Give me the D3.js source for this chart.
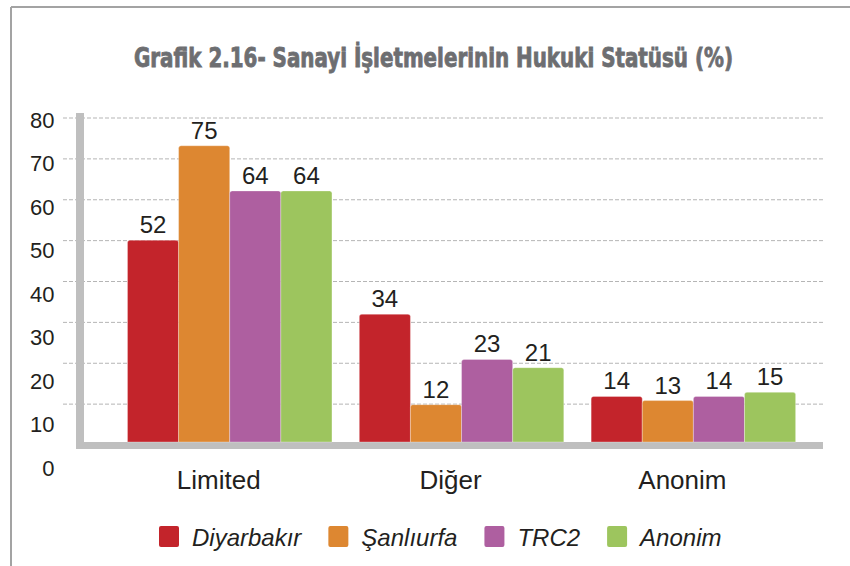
<!DOCTYPE html>
<html>
<head>
<meta charset="utf-8">
<script src="https://cdn.jsdelivr.net/npm/d3@7/dist/d3.min.js"></script>
<style>
  html, body { margin: 0; padding: 0; background: #fff; }
  svg { display: block; }
</style>
</head>
<body>
<svg id="chart" width="850" height="566"></svg>
<script>
const title = "Grafik 2.16- Sanayi İşletmelerinin Hukuki Statüsü (%)";
const categories = ["Limited", "Diğer", "Anonim"];
const seriesNames = ["Diyarbakır", "Şanlıurfa", "TRC2", "Anonim"];
const diyarbakir = [52, 34, 14];
const sanliurfa = [75, 12, 13];
const trc2 = [64, 23, 14];
const anonim = [64, 21, 15];
const yTicks = [0, 10, 20, 30, 40, 50, 60, 70, 80];
const colors = ["#c3242b", "#dd8731", "#ae5fa0", "#9dc55e"];

const seriesValues = [diyarbakir, sanliurfa, trc2, anonim];

const svg = d3.select("#chart");
const font = "'Liberation Sans', Arial, Helvetica, sans-serif";
const textColor = "#231f20";

// frame
svg.append("line").attr("x1", 11).attr("x2", 850).attr("y1", 7).attr("y2", 7)
  .attr("stroke", "#a3a3a3").attr("stroke-width", 2);
svg.append("line").attr("x1", 11).attr("x2", 11).attr("y1", 7).attr("y2", 566)
  .attr("stroke", "#a3a3a3").attr("stroke-width", 2);

// title
svg.append("text")
  .attr("x", 433.5).attr("y", 67)
  .attr("text-anchor", "middle")
  .attr("font-family", "'DejaVu Sans Condensed', 'Liberation Sans Narrow', sans-serif")
  .attr("font-weight", "bold")
  .attr("font-size", 26)
  .attr("fill", "#6d6e71")
  .attr("stroke", "#6d6e71").attr("stroke-width", 0.8)
  .attr("textLength", 599)
  .attr("lengthAdjust", "spacingAndGlyphs")
  .text(title);

// scales
const gridY = d3.scaleLinear().domain([0, 80]).range([445, 118]);
const labelY = d3.scaleLinear().domain([0, 80]).range([468, 120]);
const barY = d3.scaleLinear().domain([0, 80]).range([454, 125.2]);
const floorTop = 442;

const x0 = d3.scaleBand().domain(categories).range([113.8, 809.3])
  .paddingInner(0.118).paddingOuter(0.059);
const x1 = d3.scaleBand().domain(seriesNames).range([0, x0.bandwidth()]).padding(0);

// gridlines
svg.append("g").selectAll("line")
  .data(yTicks.filter(d => d > 0))
  .join("line")
  .attr("x1", 63).attr("x2", 824)
  .attr("y1", d => gridY(d)).attr("y2", d => gridY(d))
  .attr("stroke", "#b5b5b5").attr("stroke-width", 1)
  .attr("stroke-dasharray", "4,2");

// tick labels
svg.append("g").selectAll("text")
  .data(yTicks)
  .join("text")
  .attr("x", 54.5).attr("y", d => labelY(d))
  .attr("dy", "0.36em")
  .attr("text-anchor", "end")
  .attr("font-family", font).attr("font-size", 22)
  .attr("fill", textColor)
  .text(d => d);

// wall and floor
svg.append("rect").attr("x", 76).attr("y", 113).attr("width", 8).attr("height", 336)
  .attr("fill", "#bfbfbf");
svg.append("rect").attr("x", 76).attr("y", floorTop).attr("width", 747).attr("height", 7)
  .attr("fill", "#bfbfbf");

// bars
function topRounded(x, y, w, h, r) {
  return `M${x},${y + h}V${y + r}Q${x},${y} ${x + r},${y}H${x + w - r}Q${x + w},${y} ${x + w},${y + r}V${y + h}Z`;
}

const groups = svg.append("g").selectAll("g")
  .data(categories)
  .join("g")
  .attr("transform", d => `translate(${x0(d)},0)`);

groups.each(function(cat, ci) {
  const g = d3.select(this);
  seriesNames.forEach((s, si) => {
    const v = seriesValues[si][ci];
    const top = barY(v);
    g.append("path")
      .attr("d", topRounded(x1(s), top, x1.bandwidth(), floorTop - top, 2.5))
      .attr("fill", colors[si])
      .attr("stroke", "#ffffff").attr("stroke-opacity", 0.5).attr("stroke-width", 0.6);
    g.append("text")
      .attr("x", x1(s) + x1.bandwidth() / 2)
      .attr("y", top - 7)
      .attr("text-anchor", "middle")
      .attr("font-family", font).attr("font-size", 24)
      .attr("fill", textColor)
      .text(v);
  });
});

// category labels
svg.append("g").selectAll("text")
  .data(categories)
  .join("text")
  .attr("x", d => x0(d) + x0.bandwidth() / 2 - 11)
  .attr("y", 489)
  .attr("text-anchor", "middle")
  .attr("font-family", font).attr("font-size", 26)
  .attr("fill", textColor)
  .text(d => d);

// legend
const legend = svg.append("g");
let lx = 159;
seriesNames.forEach((s, i) => {
  legend.append("rect")
    .attr("x", lx).attr("y", 526).attr("width", 20).attr("height", 21)
    .attr("rx", 2).attr("fill", colors[i]);
  const t = legend.append("text")
    .attr("x", lx + 33).attr("y", 546)
    .attr("font-family", font).attr("font-size", 24).attr("font-style", "italic")
    .attr("fill", textColor)
    .text(s);
  lx += 33 + t.node().getComputedTextLength() + 27;
});
</script>
</body>
</html>
